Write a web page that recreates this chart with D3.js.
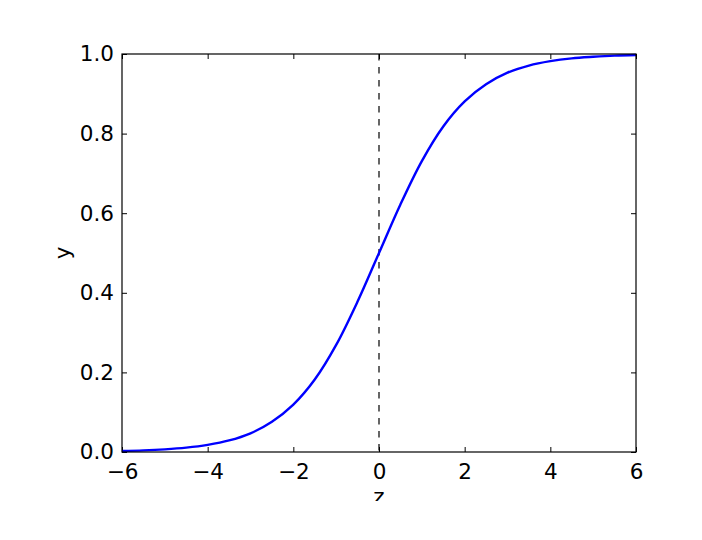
<!DOCTYPE html>
<html>
<head>
<meta charset="utf-8">
<script src="https://cdn.jsdelivr.net/npm/d3@7"></script>
<style>
  body { margin: 0; background: #fff; }
  text { font-family: "DejaVu Sans", sans-serif; fill: #000; }
</style>
</head>
<body>
<div id="chart"></div>
<script>
// values
var zValues = [-6, -5.5, -5, -4.5, -4, -3.5, -3, -2.5, -2, -1.5, -1, -0.5, 0,
               0.5, 1, 1.5, 2, 2.5, 3, 3.5, 4, 4.5, 5, 5.5, 6];
var yValues = [0.0025, 0.004, 0.0067, 0.011, 0.018, 0.029, 0.047, 0.076, 0.119, 0.182, 0.269, 0.378, 0.5,
               0.622, 0.731, 0.818, 0.881, 0.924, 0.953, 0.971, 0.982, 0.989, 0.993, 0.996, 0.9975];
var xTicks = [-6, -4, -2, 0, 2, 4, 6];
var yTicks = [0.0, 0.2, 0.4, 0.6, 0.8, 1.0];
var xLabel = "z";
var yLabel = "y";
var dividerAt = 0;

(function() {
  var margin = { top: 54, left: 122, right: 66, bottom: 88 },
  width = 702 - margin.left - margin.right,
  height = 540 - margin.top - margin.bottom;

  var fontSize = 21.5;

  var svg = d3.select("#chart")
    .append("svg")
    .attr("width", 702)
    .attr("height", 540);

  // the reference image is cut off just under the x label
  svg.append("clipPath")
    .attr("id", "page-cut")
    .append("rect")
    .attr("width", 702)
    .attr("height", 501);

  var g = svg.append("g")
    .attr("clip-path", "url(#page-cut)")
    .append("g")
    .attr("transform", "translate(" + margin.left + "," + margin.top + ")");

  var x = d3.scaleLinear().domain([-6, 6]).range([0, width]);
  var y = d3.scaleLinear().domain([0, 1]).range([height, 0]);

  var points = zValues.map(function(z, i) { return { z: z, y: yValues[i] }; });

  var tickLen = 5;

  // ticks on all four sides, pointing inward
  var xAxisBottom = d3.axisBottom(x).tickValues(xTicks).tickSizeInner(-tickLen).tickSizeOuter(0).tickPadding(12).tickFormat(d3.format("d"));
  var xAxisTop = d3.axisTop(x).tickValues(xTicks).tickSizeInner(-tickLen).tickSizeOuter(0).tickFormat("");
  var yAxisLeft = d3.axisLeft(y).tickValues(yTicks).tickSizeInner(-tickLen).tickSizeOuter(0).tickPadding(8).tickFormat(d3.format(".1f"));
  var yAxisRight = d3.axisRight(y).tickValues(yTicks).tickSizeInner(-tickLen).tickSizeOuter(0).tickFormat("");

  function styleAxis(sel) {
    sel.select(".domain").remove();
    sel.selectAll(".tick line").attr("stroke", "#000");
    sel.selectAll(".tick text").attr("font-size", fontSize).attr("font-family", "DejaVu Sans").attr("fill", "#000");
  }

  g.append("g").attr("transform", "translate(0," + height + ")").call(xAxisBottom).call(styleAxis);
  g.append("g").call(xAxisTop).call(styleAxis);
  g.append("g").call(yAxisLeft).call(styleAxis);
  g.append("g").attr("transform", "translate(" + width + ",0)").call(yAxisRight).call(styleAxis);

  // dashed line at z = 0
  g.append("line")
    .attr("x1", x(dividerAt))
    .attr("x2", x(dividerAt))
    .attr("y1", 0)
    .attr("y2", height)
    .attr("stroke", "#000")
    .attr("stroke-width", 1.2)
    .attr("stroke-dasharray", "6.5,6.5");

  var line = d3.line()
    .x(function(d) { return x(d.z); })
    .y(function(d) { return y(d.y); })
    .curve(d3.curveCatmullRom);

  g.append("path")
    .datum(points)
    .attr("d", line)
    .attr("fill", "none")
    .attr("stroke", "#0000ff")
    .attr("stroke-width", 2.4);

  // frame
  g.append("rect")
    .attr("width", width)
    .attr("height", height)
    .attr("fill", "none")
    .attr("stroke", "#000")
    .attr("stroke-width", 1.2);

  g.append("text")
    .text(xLabel)
    .attr("x", width / 2)
    .attr("y", height + 52)
    .attr("text-anchor", "middle")
    .attr("font-size", fontSize);

  g.append("text")
    .text(yLabel)
    .attr("transform", "translate(-52," + (height / 2) + ") rotate(-90)")
    .attr("text-anchor", "middle")
    .attr("font-size", fontSize);
})();
</script>
</body>
</html>
